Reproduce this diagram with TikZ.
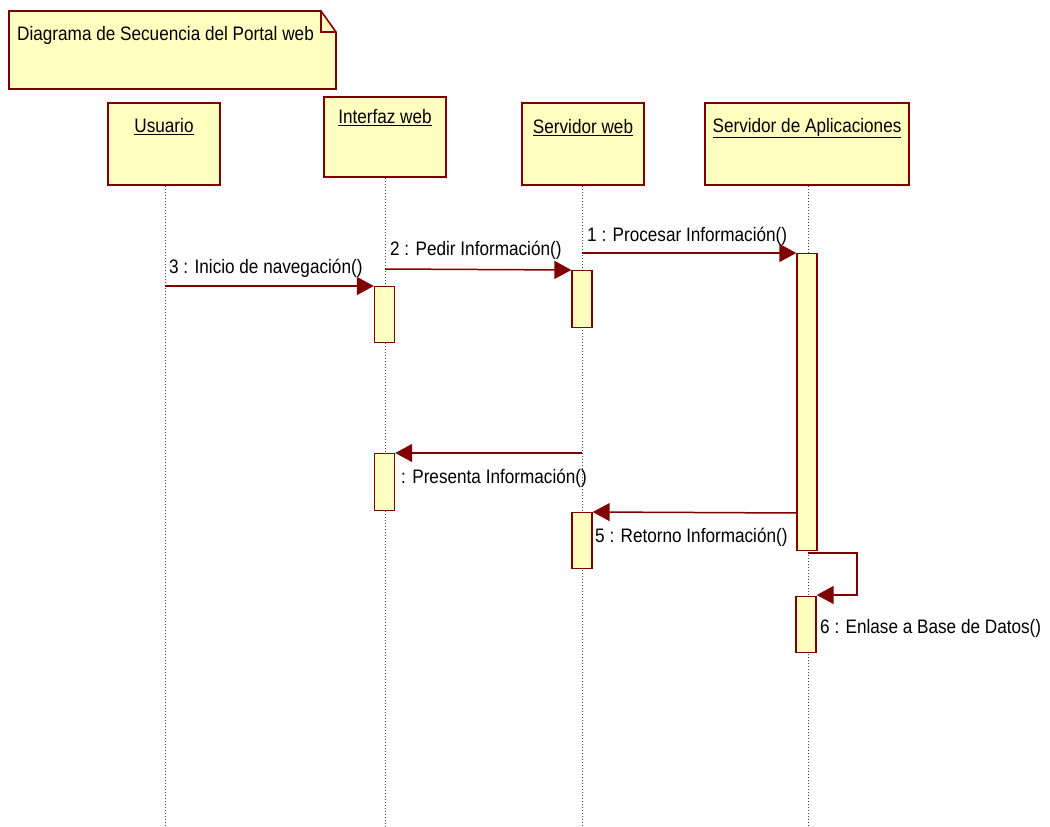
\documentclass[tikz,border=0pt]{standalone}
\usepackage{fontspec}
\setmainfont{Liberation Sans}[FakeStretch=0.88]
\usetikzlibrary{arrows.meta}
\definecolor{umlred}{RGB}{128,0,0}
\definecolor{umlfill}{RGB}{255,255,192}
\begin{document}
\begin{tikzpicture}[x=1pt,y=-1pt,
  headbox/.style={draw=umlred, fill=umlfill, line width=1.6pt, inner sep=0pt, anchor=north west},
  actbox/.style={draw=umlred, fill=umlfill, line width=1.4pt, inner sep=0pt, minimum width=20pt, anchor=north},
  lifeline/.style={draw=black!70, line width=0.9pt, dash pattern=on 1pt off 2pt},
  msg/.style={draw=umlred, line width=1.5pt, -{Triangle[length=17pt,width=18pt]}},
  txt/.style={font=\fontsize{19.5}{22}\selectfont, text=black, inner sep=0pt},
  lbl/.style={txt, anchor=west}]
\useasboundingbox (0,0) rectangle (1050,827);

% title note with folded corner
\draw[draw=umlred, fill=umlfill, line width=1.6pt, line join=miter]
  (9,11) -- (321,11) -- (336,32) -- (336,89) -- (9,89) -- cycle;
\draw[draw=umlred, line width=1.4pt] (321,11) -- (321,32) -- (336,32);
\node[lbl] (title) at (17,35) {Diagrama de Secuencia del Portal web};

% object heads
\node[headbox, minimum width=112pt, minimum height=82pt] (usr) at (107,102) {};
\node[headbox, minimum width=122pt, minimum height=80pt] (ifz) at (323,96) {};
\node[headbox, minimum width=122pt, minimum height=82pt] (srv) at (521,102) {};
\node[headbox, minimum width=204pt, minimum height=82pt] (app) at (704,102) {};
\node[txt] (usrT) at (164,127) {\underline{Usuario}};
\node[txt] (ifzT) at (385,118) {\underline{Interfaz web}};
\node[txt] (srvT) at (583,128) {\underline{Servidor web}};
\node[txt] (appT) at (807,128) {\underline{Servidor de Aplicaciones}};

% lifelines
\coordinate (usrEnd) at (165,827);
\coordinate (ifzEnd) at (385,827);
\coordinate (srvEnd) at (582,827);
\coordinate (appEnd) at (808,827);
\draw[lifeline] (usr.south -| usrEnd) -- (usrEnd);
\draw[lifeline] (ifz.south -| ifzEnd) -- (ifzEnd);
\draw[lifeline] (srv.south -| srvEnd) -- (srvEnd);
\draw[lifeline] (app.south -| appEnd) -- (appEnd);

% activation bars
\node[actbox, minimum height=56pt] (ia1) at (384.5,286) {};
\node[actbox, minimum height=57pt] (ia2) at (384.5,453) {};
\node[actbox, minimum height=57pt] (sa1) at (582,270) {};
\node[actbox, minimum height=56pt] (sa2) at (582,512) {};
\node[actbox, minimum height=297pt] (aa1) at (807,253) {};
\node[actbox, minimum height=56pt] (aa2) at (806,596) {};

% messages
\coordinate (m3s) at (165,286);
\draw[msg] (m3s) -- (ia1.north west);
\node[lbl] (m3l) at (169,268) {3 : Inicio de navegación()};

\coordinate (m2s) at (385,269);
\draw[msg] (m2s) -- (sa1.north west);
\node[lbl] (m2l) at (390,250) {2 : Pedir Información()};

\coordinate (m1s) at (582,253);
\draw[msg] (m1s) -- (aa1.north west);
\node[lbl] (m1l) at (587,236) {1 : Procesar Información()};

\coordinate (m4s) at (582,453);
\draw[msg] (m4s) -- (ia2.north east);
\node[lbl] (m4l) at (401,478) {: Presenta Información()};

\coordinate (m5s) at (797,513);
\draw[msg] (m5s) -- (sa2.north east);
\node[lbl] (m5l) at (595,537) {5 : Retorno Información()};

\coordinate (m6s) at (808,553);
\coordinate (m6a) at (857,553);
\coordinate (m6b) at (857,595);
\draw[msg] (m6s) -- (m6a) -- (m6b) -- (m6b -| aa2.east);
\node[lbl] (m6l) at (820,628) {6 : Enlase a Base de Datos()};
\end{tikzpicture}
\end{document}
